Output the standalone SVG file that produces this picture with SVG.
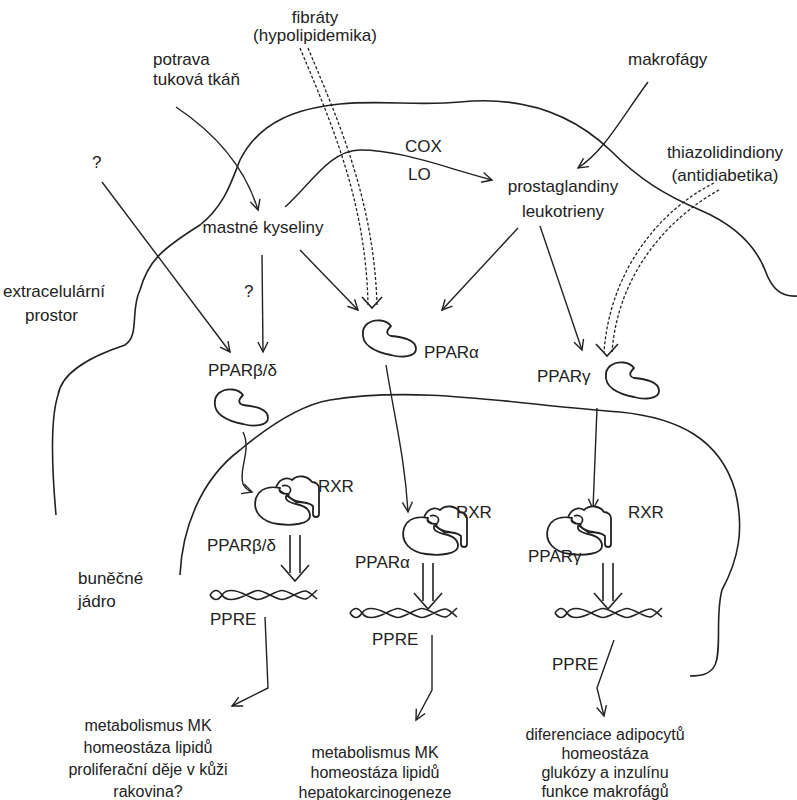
<svg xmlns="http://www.w3.org/2000/svg" width="797" height="800" viewBox="0 0 797 800">
<style>
text{font-family:"Liberation Sans",Arial,sans-serif;font-size:17px;fill:#222}
.b{font-size:16px}
.c{text-anchor:middle}
.l{fill:none;stroke:#222;stroke-width:1.6}
.a{fill:none;stroke:#222;stroke-width:1.4;marker-end:url(#ah)}
.d{fill:none;stroke:#222;stroke-width:1.3;stroke-dasharray:3 2}
.s{fill:#fff;stroke:#222;stroke-width:1.8;stroke-linejoin:round}
</style>
<defs>
<marker id="ah" markerWidth="14" markerHeight="14" refX="11" refY="6" orient="auto" markerUnits="userSpaceOnUse"><path d="M1,1 L11,6 L1,11" fill="none" stroke="#222" stroke-width="1.4"/></marker>
<path id="bean" class="s" d="M6,4 C14,-2 26,0 30,6 C26,10 24,14 30,16 C40,17 55,19 55,29 C55,37 40,38 30,35 C14,32 0,25 2,12 C2,8 4,6 6,4 Z"/>
<g id="cx">
<path class="s" d="M24,14 C26,6 34,2 40,6 C46,0 56,2 60,8 C64,8 67,11 67,14 L67,40 C67,44 61,44 61,40 L61,32 C57,28 50,28 44,28 Z"/>
<path class="s" d="M4,24 C8,14 18,12 28,14 C26,18 30,20 36,20 C31,24 35,28 44,30 C54,32 58,36 58,42 C58,50 40,52 26,50 C10,48 0,38 4,24 Z"/>
<path class="l" d="M30,12 C36,10 40,14 38,18 C34,22 38,26 50,28" stroke-width="1.4"/>
</g>
<g id="dbl"><path class="l" d="M-5,0 V38 M5,0 V38 M-14,30 L0,46 L14,30"/></g>
<g id="dna"><path class="l" stroke-width="1.4" d="M0,7 C4,1 8,1 12,7 S24,13 36,7 S48,1 60,7 S72,13 84,7 S96,1 107,11 M0,7 C4,13 8,13 12,7 S24,1 36,7 S48,13 60,7 S72,1 84,7 S96,13 107,2"/></g>
</defs>
<g id="membranes">
<path class="l" d="M56,515 C52,470 50,420 58,395 C62,370 95,355 125,345 C140,335 130,310 140,290 C148,262 160,250 200,225 C225,205 232,180 240,160 C260,120 300,108 340,104 C380,100 420,106 460,102 C520,96 570,112 610,150 C640,180 665,195 700,210 C735,225 755,245 765,270 C772,290 782,297 797,296"/>
<path class="l" d="M180,575 C182,530 200,480 240,450 C270,425 300,405 330,400 C420,385 520,405 620,412 C680,418 720,440 735,490 C745,530 738,560 722,590 C715,615 722,650 715,665 C710,675 700,676 690,676"/>
</g>
<g id="connectors">
<path class="a" d="M176,107 Q240,150 258,210"/>
<path class="a" d="M102,182 L230,352"/>
<path class="a" d="M262,255 L263,352"/>
<path class="a" d="M300,250 L358,310"/>
<path class="a" d="M285,207 C310,185 330,150 360,150 C400,150 440,166 492,180"/>
<path class="a" d="M648,82 C620,120 605,150 578,168"/>
<path class="a" d="M518,228 L442,310"/>
<path class="a" d="M540,226 L582,350"/>
<path class="d" d="M300,48 C330,120 366,200 368,305"/>
<path class="d" d="M308,48 C338,120 374,200 377,305"/>
<path class="l" stroke-width="1.4" d="M362,297 L372,308 L382,297"/>
<path class="d" d="M714,183 C660,210 610,270 604,352"/>
<path class="d" d="M719,190 C670,217 618,272 612,352"/>
<path class="l" stroke-width="1.4" d="M596,344 L607,356 L618,344"/>
<path class="a" d="M386,365 C395,420 405,460 408,512"/>
<path class="a" d="M243,432 C252,450 238,470 243,484 Q246,490 252,492"/>
<path class="a" d="M597,408 L593,509"/>
<path class="a" d="M265,617 L268,688 L232,706"/>
<path class="a" d="M432,635 L432,690 L416,720"/>
<path class="a" d="M614,640 L597,688 L604,716"/>
</g>
<g id="inputs">
<text class="c" x="315" y="23">fibráty</text>
<text class="c" x="315" y="41">(hypolipidemika)</text>
<text x="153" y="65">potrava</text>
<text x="153" y="85">tuková tkáň</text>
<text x="628" y="65">makrofágy</text>
<text x="92" y="168">?</text>
<text x="405" y="152">COX</text>
<text x="408" y="180">LO</text>
<text class="c" x="725" y="158">thiazolidindiony</text>
<text class="c" x="725" y="181">(antidiabetika)</text>
<text class="c" x="563" y="192">prostaglandiny</text>
<text class="c" x="563" y="217">leukotrieny</text>
<text class="c" x="263" y="233">mastné kyseliny</text>
<text x="3" y="297">extracelulární</text>
<text x="25" y="321">prostor</text>
<text x="244" y="297">?</text>
<text x="78" y="584">buněčné</text>
<text x="78" y="607">jádro</text>
</g>
<g id="ppar-bd">
<text x="208" y="376">PPARβ/δ</text>
<use href="#bean" x="213" y="389"/>
<use href="#cx" x="252" y="474"/>
<text x="318" y="492">RXR</text>
<text x="207" y="551">PPARβ/δ</text>
<use href="#dbl" x="295" y="535"/>
<use href="#dna" x="210" y="588"/>
<text x="210" y="625">PPRE</text>
<text class="c b" x="148" y="731">metabolismus MK</text>
<text class="c b" x="148" y="753">homeostáza lipidů</text>
<text class="c b" x="148" y="775">proliferační děje v kůži</text>
<text class="c b" x="148" y="797">rakovina?</text>
</g>
<g id="ppar-a">
<use href="#bean" x="361" y="320"/>
<text x="424" y="358">PPARα</text>
<use href="#cx" x="400" y="504"/>
<text x="456" y="518">RXR</text>
<text x="355" y="568">PPARα</text>
<use href="#dbl" x="428" y="563"/>
<use href="#dna" x="350" y="606"/>
<text x="372" y="645">PPRE</text>
<text class="c b" x="375" y="758">metabolismus MK</text>
<text class="c b" x="375" y="778">homeostáza lipidů</text>
<text class="c b" x="375" y="798">hepatokarcinogeneze</text>
</g>
<g id="ppar-g">
<text x="537" y="382">PPARγ</text>
<use href="#bean" x="604" y="362"/>
<use href="#cx" x="544" y="504"/>
<text x="628" y="518">RXR</text>
<text x="528" y="562">PPARγ</text>
<use href="#dbl" x="608" y="563"/>
<use href="#dna" x="555" y="606"/>
<text x="552" y="670">PPRE</text>
<text class="c b" x="605" y="740">diferenciace adipocytů</text>
<text class="c b" x="605" y="759">homeostáza</text>
<text class="c b" x="605" y="778">glukózy a inzulínu</text>
<text class="c b" x="605" y="797">funkce makrofágů</text>
</g>
</svg>
